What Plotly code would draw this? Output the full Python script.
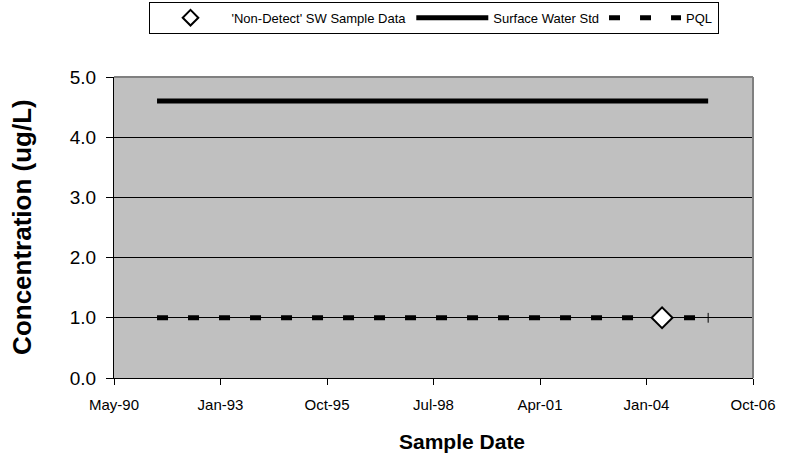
import plotly.graph_objects as go
from datetime import date, timedelta

# Data
line_dates = ["1991-06-15", "2005-08-15"]
sw_std = [4.6, 4.6]
pql = [1.0, 1.0]
nd_dates = ["2004-06-08"]
nd_values = [1.0]

# Axis ticks (Excel-style date axis, 1000-day major unit)
tick_serials = [33000, 34000, 35000, 36000, 37000, 38000, 39000]
tick_labels = ["May-90", "Jan-93", "Oct-95", "Jul-98", "Apr-01", "Jan-04", "Oct-06"]
y_ticks = [0, 1, 2, 3, 4, 5]
y_labels = ["0.0", "1.0", "2.0", "3.0", "4.0", "5.0"]
epoch = date(1899, 12, 30)
tick_dates = [(epoch + timedelta(days=s)).isoformat() for s in tick_serials]

FONT = "Arial, Liberation Sans, sans-serif"

fig = go.Figure()
fig.add_trace(go.Scatter(
    x=line_dates, y=sw_std, mode="lines", name="Surface Water Std", legendrank=2,
    line=dict(color="black", width=5),
))
fig.add_trace(go.Scatter(
    x=line_dates, y=pql, mode="lines", name="PQL", legendrank=3,
    line=dict(color="black", width=5, dash="11px,20px"),
))
fig.add_trace(go.Scatter(
    x=line_dates[-1:], y=pql[-1:], mode="markers", showlegend=False, hoverinfo="skip",
    marker=dict(symbol="line-ns-open", size=7, color="black", line=dict(color="black", width=1)),
))
fig.add_trace(go.Scatter(
    x=nd_dates, y=nd_values, mode="markers", name="'Non-Detect' SW Sample Data", legendrank=1,
    marker=dict(symbol="diamond", size=16, color="white", line=dict(color="black", width=2)),
))

fig.update_layout(
    width=793, height=462,
    margin=dict(l=114, r=40, t=77, b=84, autoexpand=False),
    paper_bgcolor="white", plot_bgcolor="#C0C0C0",
    font=dict(family=FONT, color="black", size=12),
    showlegend=True,
    legend=dict(
        orientation="h", x=0.50, xanchor="center", y=1.25, yanchor="top",
        bordercolor="black", borderwidth=1, bgcolor="white",
        font=dict(size=13, family=FONT), itemwidth=72, itemsizing="constant",
        tracegroupgap=0,
    ),
    xaxis=dict(
        type="date", range=[tick_dates[0], tick_dates[-1]],
        tickvals=tick_dates, ticktext=tick_labels,
        ticks="outside", ticklen=6, tickcolor="black",
        showgrid=False, showline=True, linecolor="black", linewidth=1,
        zeroline=False, automargin=False, ticklabelstandoff=7,
        tickfont=dict(size=15),
    ),
    yaxis=dict(
        range=[0, 5], tickvals=y_ticks, ticktext=y_labels,
        ticks="outside", ticklen=7, tickcolor="black",
        showgrid=True, gridcolor="black", gridwidth=1,
        showline=True, linecolor="black", linewidth=1, zeroline=False,
        automargin=False, ticklabelstandoff=6,
        tickfont=dict(size=19),
    ),
    shapes=[
        dict(type="line", xref="paper", yref="paper", x0=0, x1=1, y0=1, y1=1,
             line=dict(color="#808080", width=2)),
        dict(type="line", xref="paper", yref="paper", x0=1, x1=1, y0=0, y1=1,
             line=dict(color="#808080", width=2)),
    ],
    annotations=[
        dict(text="<b>Sample Date</b>", xref="paper", yref="paper", x=0.545, y=-0.2126,
             xanchor="center", yanchor="middle", showarrow=False,
             font=dict(size=21, family=FONT)),
        dict(text="<b>Concentration (ug/L)</b>", xref="paper", yref="paper", x=-0.144, y=0.502,
             xanchor="center", yanchor="middle", textangle=-90, showarrow=False,
             font=dict(size=26, family=FONT)),
    ],
)

fig.write_html("out.html", config={"displayModeBar": False},
               post_script="document.body.style.margin='0px';")
